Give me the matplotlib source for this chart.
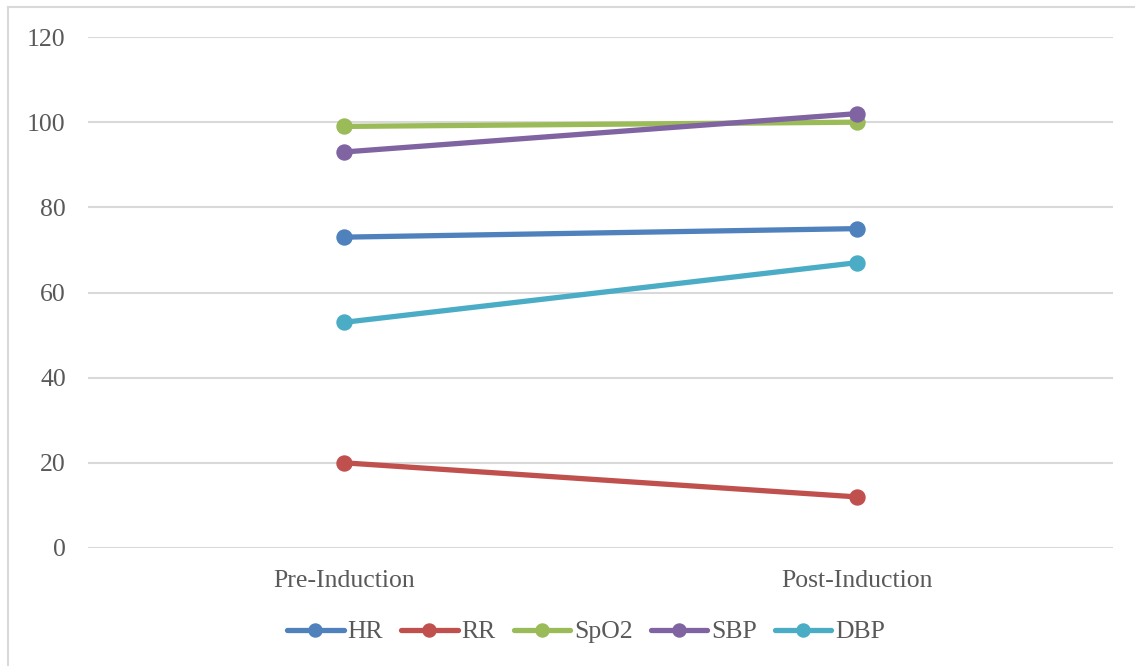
import matplotlib.pyplot as plt
from matplotlib.lines import Line2D

# Vital signs before and after induction
stages = ["Pre-Induction", "Post-Induction"]
hr = [73, 75]
rr = [20, 12]
spo2 = [99, 100]
sbp = [93, 102]
dbp = [53, 67]

series = [
    ("HR", hr, "#4F81BD"),
    ("RR", rr, "#C0504D"),
    ("SpO2", spo2, "#9BBB59"),
    ("SBP", sbp, "#8064A2"),
    ("DBP", dbp, "#4BACC6"),
]

plt.rcParams["font.family"] = ["Liberation Serif", "DejaVu Serif"]
text_color = "#595959"
fs = 18.5

W, H = 1135, 666
fig = plt.figure(figsize=(W / 100, H / 100), dpi=100)

# chart border: only the top and left edges fall inside the image
fig.add_artist(Line2D([8 / W, 1], [1 - 7 / H, 1 - 7 / H], transform=fig.transFigure,
                      color="#d9d9d9", lw=1.5))
fig.add_artist(Line2D([8 / W, 8 / W], [0, 1 - 7 / H], transform=fig.transFigure,
                      color="#d9d9d9", lw=1.5))

ax = fig.add_axes([88 / W, 1 - 548 / H, (1113 - 88) / W, (548 - 37) / H])

x = list(range(len(stages)))
for name, vals, color in series:
    ax.plot(x, vals, color=color, lw=3.8, marker="o", markersize=10.8,
            solid_capstyle="round", label=name)

ax.set_xlim(-0.5, 1.5)
ax.set_ylim(0, 120)
ax.set_yticks(range(0, 121, 20))
ax.set_xticks(x)
ax.set_xticklabels(stages)
ax.grid(axis="y", color="#d9d9d9", lw=1.5)
ax.set_axisbelow(True)
for s in ax.spines.values():
    s.set_visible(False)
ax.tick_params(axis="both", length=0, labelsize=fs, labelcolor=text_color)
ax.tick_params(axis="y", pad=16)
ax.tick_params(axis="x", pad=16)

ax.legend(loc="center", bbox_to_anchor=(586 / W, 1 - 632 / H),
          bbox_transform=fig.transFigure, ncol=5, frameon=False,
          fontsize=fs, labelcolor=text_color, handlelength=2.2,
          handletextpad=0.15, columnspacing=0.7, markerscale=0.87)

fig.savefig("out.png", dpi=100)
